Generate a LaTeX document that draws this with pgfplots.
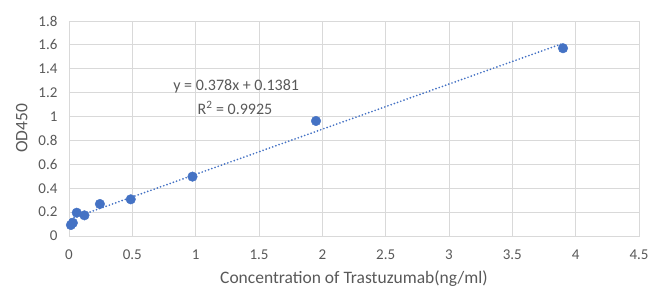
\documentclass[border=0pt]{standalone}
\usepackage{pgfplots}
\pgfplotsset{compat=1.18}
\usepackage{fontspec}
\setmainfont{Carlito}
\definecolor{txt}{HTML}{595959}
\definecolor{grd}{HTML}{D9D9D9}
\definecolor{blu}{HTML}{4472C4}
\begin{document}
\begin{tikzpicture}
\begin{axis}[
  scale only axis,
  width=570pt, height=215pt,
  xmin=0, xmax=4.5, ymin=0, ymax=1.8,
  xtick={0,0.5,...,4.5}, ytick={0,0.2,...,1.8},
  grid=major,
  major grid style={grd, line width=0.9pt},
  axis line style={grd, line width=0.9pt},
  major tick length=0pt,
  tick label style={txt, font=\fontsize{15}{17}\selectfont},
  /pgf/number format/assume math mode=true,
  yticklabel style={/pgf/number format/fixed, /pgf/number format/precision=1},
  xticklabel style={/pgf/number format/fixed, /pgf/number format/precision=1, yshift=-10pt},
  yticklabel style={xshift=-8pt},
  xlabel={Concentration of Trastuzumab(ng/ml)},
  ylabel={OD450},
  label style={txt, font=\fontsize{17.5}{20}\selectfont},
  xlabel style={yshift=-4pt},
  ylabel style={yshift=4pt},
  clip=false,
]
\addplot[blu, line width=1.9pt, line cap=round, dash pattern=on 0pt off 3.4pt] coordinates {(0.015,0.1438) (3.9,1.6123)};
\addplot[only marks, mark=*, mark size=4.8pt, blu, mark options={draw=blu, fill=blu, solid}] coordinates {
(0.015,0.092) (0.0305,0.110) (0.061,0.195) (0.122,0.173) (0.244,0.268)
(0.4875,0.307) (0.975,0.497) (1.95,0.963) (3.9,1.572)};
\node[txt, font=\fontsize{16}{18}\selectfont, anchor=center] at (axis cs:1.32,1.25) {y = 0.378x + 0.1381};
\node[txt, font=\fontsize{16}{18}\selectfont, anchor=center] at (axis cs:1.31,1.07) {R\textsuperscript{2} = 0.9925};
\end{axis}
\pgfresetboundingbox
\path (-69pt,-55pt) rectangle (581pt,236pt);
\end{tikzpicture}
\end{document}
